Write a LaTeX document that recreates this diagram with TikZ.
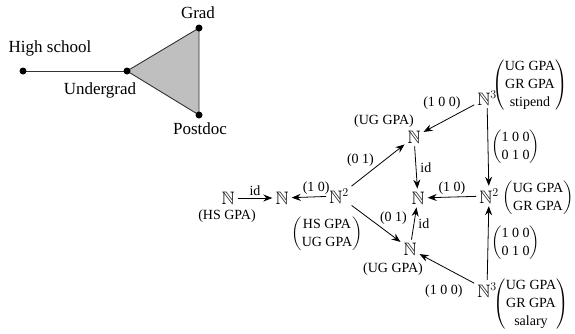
\documentclass[tikz,border=0pt]{standalone}
\usepackage{amsmath,amssymb}
\usepackage{fontspec}
\setmainfont{Liberation Serif}
\usepackage{tikz}
\usetikzlibrary{arrows.meta,backgrounds}

\newcommand{\nat}{\mathbb{N}}

\begin{document}
\begin{tikzpicture}[x=1pt,y=-1pt,
    dot/.style={circle, fill=black, inner sep=0pt, minimum size=7pt},
    place/.style={font=\fontsize{17}{20}\selectfont},
    obj/.style={font=\fontsize{18}{20}\selectfont, inner sep=2pt},
    mat/.style={font=\fontsize{14}{18}\selectfont, inner sep=1pt},
    lab/.style={font=\fontsize{14}{18}\selectfont, inner sep=1pt},
    arr/.style={-{Stealth[length=9pt,width=7pt,inset=3pt]}, line width=0.8pt, shorten >=1pt, shorten <=1pt}]
    \useasboundingbox (0,0) rectangle (575,333);

    % Career graph
    \node[dot] (hs) at (23,71) {};
    \node[dot] (ug) at (127,71) {};
    \node[dot] (gr) at (199,28) {};
    \node[dot] (pd) at (199,115) {};
    \begin{scope}[on background layer]
        \draw[black!80, line width=0.9pt, fill=black!25] (ug.center) -- (gr.center) -- (pd.center) -- cycle;
        \draw[black!80, line width=0.9pt] (hs.center) -- (ug.center);
    \end{scope}
    \node[place] (hslab) at (50,48) {High school};
    \node[place] (uglab) at (100,90) {Undergrad};
    \node[place] (grlab) at (198,13) {Grad};
    \node[place] (pdlab) at (200,129) {Postdoc};

    % Objects
    \node[obj] (n0) at (228,198) {$\nat$};
    \node[lab] (n0lab) at (227,216) {(HS GPA)};
    \node[obj] (n1) at (282,198) {$\nat$};
    \node[obj] (n2) at (339,196) {$\nat^2$};
    \node[mat] (n2m) at (327,234) {$\begin{pmatrix}\text{HS GPA}\\ \text{UG GPA}\end{pmatrix}$};
    \node[obj] (a) at (414,137) {$\nat$};
    \node[lab] (alab) at (384,121) {(UG GPA)};
    \node[obj] (c) at (418,198) {$\nat$};
    \node[obj] (b) at (410,249) {$\nat$};
    \node[lab] (blab) at (393,269) {(UG GPA)};
    \node[obj] (r) at (489,196) {$\nat^2$};
    \node[mat] (rm) at (538,198) {$\begin{pmatrix}\text{UG GPA}\\ \text{GR GPA}\end{pmatrix}$};
    \node[obj] (t) at (487,98) {$\nat^3$};
    \node[mat] (tm) at (530,85) {$\begin{pmatrix}\text{UG GPA}\\ \text{GR GPA}\\ \text{stipend}\end{pmatrix}$};
    \node[obj] (s) at (487,290) {$\nat^3$};
    \node[mat] (sm) at (531,304) {$\begin{pmatrix}\text{UG GPA}\\ \text{GR GPA}\\ \text{salary}\end{pmatrix}$};

    % Maps
    \draw[arr] (n0) -- (n1) node[lab, midway, above=1pt] {id};
    \draw[arr] (n2) -- (n1) node[lab, pos=0.3, above=1pt] {(1 0)};
    \draw[arr] (n2) -- (a) node[lab, pos=0.45, above left] {(0 1)};
    \draw[arr] (n2) -- (b) node[lab, pos=0.55, above right] {(0 1)};
    \draw[arr] (a) -- (c) node[lab, midway, right=3pt] {id};
    \draw[arr] (b) -- (c) node[lab, midway, right=3pt] {id};
    \draw[arr] (r) -- (c) node[lab, midway, above=1pt] {(1 0)};
    \draw[arr] (t) -- (a) node[lab, pos=0.25, above left] {(1 0 0)};
    \draw[arr] (s) -- (b) node[lab, pos=0.2, below left, yshift=-6pt] {(1 0 0)};
    \draw[arr] (t) -- (r) node[mat, midway, right=2pt] {$\begin{pmatrix}\text{1 0 0}\\ \text{0 1 0}\end{pmatrix}$};
    \draw[arr] (s) -- (r) node[mat, midway, right=2pt] {$\begin{pmatrix}\text{1 0 0}\\ \text{0 1 0}\end{pmatrix}$};
\end{tikzpicture}
\end{document}
